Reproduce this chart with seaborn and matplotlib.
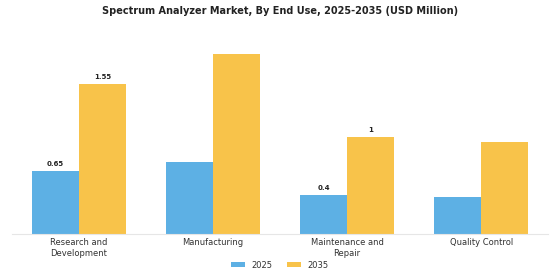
import pandas as pd
import matplotlib
matplotlib.use('Agg')
import matplotlib.pyplot as plt
import seaborn as sns

# data
categories = ['Research and\nDevelopment', 'Manufacturing', 'Maintenance and\nRepair', 'Quality Control']
years = ['2025', '2035']
values_2025 = [0.65, 0.75, 0.40, 0.38]
values_2035 = [1.55, 1.86, 1.00, 0.95]
# which bars carry a value label
labels_2025 = ['0.65', '', '0.4', '']
labels_2035 = ['1.55', '', '1', '']

df = pd.DataFrame({
    'End Use': categories * 2,
    'Year': [years[0]] * 4 + [years[1]] * 4,
    'Value': values_2025 + values_2035,
})

sns.set_style('white')
plt.rcParams['font.family'] = ['DejaVu Sans']

fig = plt.figure(figsize=(5.6, 2.8), dpi=100)
ax = fig.add_axes([0.021, 0.164, 0.958, 0.69])

sns.barplot(data=df, x='End Use', y='Value', hue='Year', hue_order=years,
            palette=['#5DB0E4', '#F8C34A'], width=0.7, saturation=1,
            linewidth=0, ax=ax, legend=True)

for cont, labs in zip(ax.containers, [labels_2025, labels_2035]):
    ax.bar_label(cont, labels=labs, padding=3, fontsize=5, fontweight='bold', color='#222222')

ax.set_ylim(0, 2.0)
ax.set_xlim(-0.5, 3.5)
ax.set_xlabel('')
ax.set_ylabel('')
ax.set_yticks([])
ax.tick_params(axis='x', length=0, labelsize=6, colors='#333333', pad=3)
for s in ['top', 'right', 'left']:
    ax.spines[s].set_visible(False)
ax.spines['bottom'].set_color('#e6e6e6')
ax.spines['bottom'].set_linewidth(0.8)

handles, labs = ax.get_legend_handles_labels()
ax.get_legend().remove()
fig.legend(handles, labs, loc='center', bbox_to_anchor=(0.5, 0.053), ncol=2, frameon=False,
           fontsize=6, handlelength=1.6, handleheight=0.6, handletextpad=0.8,
           columnspacing=1.8, labelcolor='#333333')

fig.suptitle('Spectrum Analyzer Market, By End Use, 2025-2035 (USD Million)',
             x=0.5, y=0.98, fontsize=7, fontweight='bold', color='#222222')

fig.savefig('out.png', dpi=100)
